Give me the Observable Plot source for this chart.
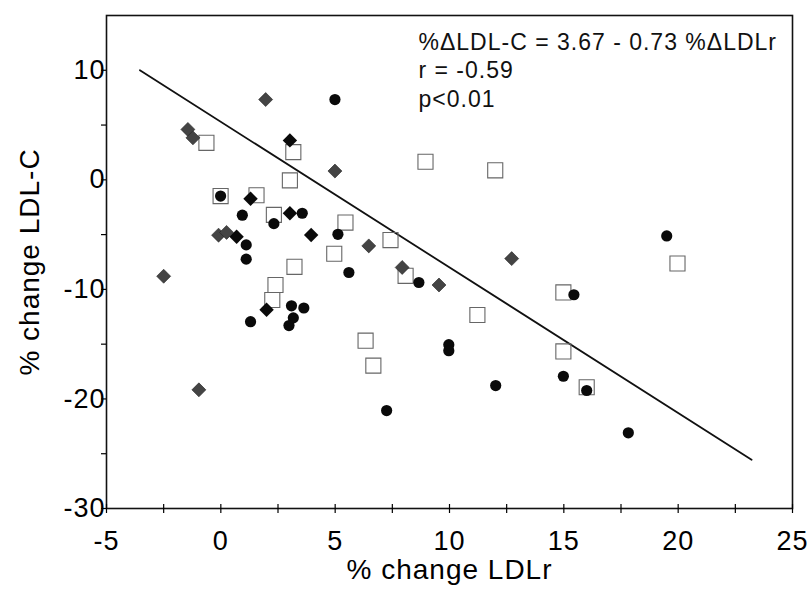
<!DOCTYPE html>
<html>
<head>
<meta charset="utf-8">
<script src="https://cdn.jsdelivr.net/npm/d3@7"></script>
<script src="https://cdn.jsdelivr.net/npm/@observablehq/plot@0.6"></script>
<style>
  html, body { margin: 0; padding: 0; background: #fff; }
  #chart { width: 808px; height: 590px; }
</style>
</head>
<body>
<div id="chart"></div>
<script>
// Filled black circles
const circleX = [4.99, -0.01, 0.94, 2.32, 3.56, 5.12, 1.11, 1.11, 5.6, 3.09, 3.63, 3.17, 2.98, 1.3, 7.25, 8.66, 9.97, 9.97, 12.02, 15.44, 14.98, 16.0, 17.82, 19.5];
const circleY = [7.33, -1.48, -3.23, -4.0, -3.05, -4.97, -5.94, -7.24, -8.46, -11.5, -11.7, -12.6, -13.3, -12.95, -21.06, -9.37, -15.05, -15.6, -18.78, -10.49, -17.93, -19.23, -23.09, -5.12];
// Black diamonds
const blackDiamondX = [3.02, 1.3, 3.02, 3.95, 2.0, 0.69];
const blackDiamondY = [3.6, -1.72, -3.05, -5.03, -11.86, -5.2];
// Grey (dithered) diamonds
const greyDiamondX = [1.96, -1.44, -1.22, 4.99, 6.47, -2.5, 7.93, 9.54, -0.96, -0.1, 0.25, 12.72];
const greyDiamondY = [7.33, 4.6, 3.83, 0.8, -6.03, -8.8, -8.0, -9.6, -19.17, -5.05, -4.8, -7.19];
// Open squares
const squareX = [-0.63, 3.17, 3.02, -0.01, 1.56, 2.32, 5.45, 7.42, 4.96, 3.22, 2.39, 2.25, 8.08, 6.33, 6.67, 8.95, 12.0, 11.22, 14.98, 14.98, 16.0, 19.97];
const squareY = [3.38, 2.53, -0.05, -1.48, -1.41, -3.2, -3.9, -5.5, -6.75, -7.94, -9.6, -10.97, -8.76, -14.68, -16.96, 1.65, 0.87, -12.34, -10.28, -15.66, -18.93, -7.64];
// Fitted line end points (as drawn)
const lineX = [-3.54, 23.21];
const lineY = [10.0, -25.55];
// Axis ticks
const xTickLabels = [-5, 0, 5, 10, 15, 20, 25];
const xTickAll = [-5, -2.5, 0, 2.5, 5, 7.5, 10, 12.5, 15, 17.5, 20, 22.5, 25];
const yTickLabels = [10, 0, -10, -20, -30];
const yTickAll = [10, 5, 0, -5, -10, -15, -20, -25, -30];
const annotation = ["%ΔLDL-C = 3.67 - 0.73 %ΔLDLr", "r = -0.59", "p<0.01"];

const pts = (xs, ys) => xs.map((x, i) => ({x, y: ys[i]}));
const font = "'Liberation Sans', Arial, sans-serif";
const fmt = d => String(d);

const chart = Plot.plot({
  width: 808,
  height: 590,
  marginLeft: 106,
  marginRight: 16,
  marginTop: 15,
  marginBottom: 82,
  style: `font-family: ${font}; font-size: 27px; letter-spacing: 1px; color: #000; background: #fff;`,
  x: {domain: [-5, 25]},
  y: {domain: [-30, 15]},
  marks: [
    Plot.frame({stroke: "#111", strokeWidth: 1.6}),
    Plot.axisX({ticks: xTickAll, tickSize: 5, text: null, label: null, strokeWidth: 1.2}),
    Plot.axisX({ticks: xTickAll, tickSize: -4, text: null, label: null, strokeWidth: 1.2}),
    Plot.axisX({ticks: xTickLabels, tickSize: 0, tickPadding: 22, fontSize: 27, tickFormat: fmt, label: null}),
    Plot.axisX({ticks: [], label: "% change LDLr", labelAnchor: "center", labelOffset: 70, labelArrow: false, fontSize: 28}),
    Plot.axisY({ticks: yTickAll, tickSize: 5, text: null, label: null, strokeWidth: 1.2}),
    Plot.axisY({ticks: yTickLabels, tickSize: 0, tickPadding: 1, fontSize: 27, tickFormat: fmt, label: null}),
    Plot.axisY({ticks: [], label: "% change LDL-C", labelAnchor: "center", labelOffset: 87, labelArrow: false, fontSize: 28}),
    Plot.line(pts(lineX, lineY), {x: "x", y: "y", stroke: "#111", strokeWidth: 1.8}),
    Plot.dot(pts(squareX, squareY), {x: "x", y: "y", symbol: "square", r: 8.5, stroke: "#666", strokeWidth: 1.1, fill: "none"}),
    Plot.dot(pts(greyDiamondX, greyDiamondY), {x: "x", y: "y", symbol: "diamond2", r: 6.3, fill: "#444", stroke: "#222", strokeWidth: 0.6}),
    Plot.dot(pts(blackDiamondX, blackDiamondY), {x: "x", y: "y", symbol: "diamond2", r: 6.5, fill: "#0a0a0a"}),
    Plot.dot(pts(circleX, circleY), {x: "x", y: "y", symbol: "circle", r: 5.6, fill: "#0a0a0a"}),
    Plot.text([annotation.join("\n")], {frameAnchor: "top-left", dx: 312, dy: 15, lineAnchor: "top", textAnchor: "start", lineHeight: 1.22, fontSize: 23, fill: "#111", style: "letter-spacing: 0.7px"})
  ]
});
document.getElementById("chart").appendChild(chart);
</script>
</body>
</html>
